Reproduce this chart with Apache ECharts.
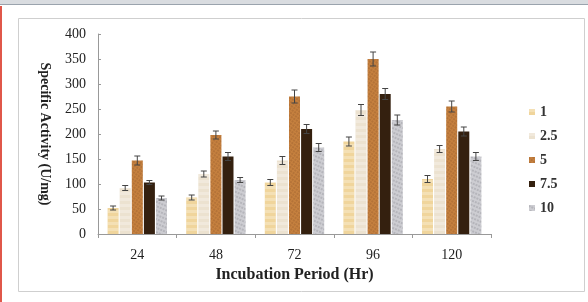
<!DOCTYPE html>
<html>
<head>
<meta charset="utf-8">
<script src="https://cdn.jsdelivr.net/npm/echarts@6/dist/echarts.min.js"></script>
<style>
  html, body { margin: 0; padding: 0; background: #fff; }
  #chart { width: 588px; height: 302px; }
</style>
</head>
<body>
<div id="chart"></div>
<script>
    var periods = ['24', '48', '72', '96', '120'];
    var seriesNames = ['1', '2.5', '5', '7.5', '10'];
    var values = [
        [52, 73, 103, 185, 110],
        [92, 120, 147, 248, 170],
        [147, 198, 275, 350, 255],
        [103, 155, 210, 280, 205],
        [72, 108, 173, 228, 155]
    ];
    var errors = [
        [4, 5, 6, 9, 7],
        [5, 6, 8, 11, 7],
        [9, 8, 13, 14, 11],
        [4, 8, 9, 11, 9],
        [4, 5, 8, 10, 8]
    ];
    var colors = ['#f0d59c', '#ece2d0', '#c6813f', '#34200f', '#cdcdd2'];

    var barWidth = 11;
    var barGap = 0.1;

    var serif = '"Liberation Serif", "DejaVu Serif", serif';

    function decalFor(i) {
        if (i === 2) {
            return { symbol: 'circle', symbolSize: 0.7, color: 'rgba(110,60,25,0.55)', dashArrayX: [2, 1], dashArrayY: [2, 1], rotation: 0.6 };
        }
        if (i === 4) {
            return { symbol: 'circle', symbolSize: 0.8, color: 'rgba(105,105,115,0.55)', dashArrayX: [2, 1], dashArrayY: [2, 2], rotation: 0.4 };
        }
        if (i === 0 || i === 1) {
            return { symbol: 'rect', symbolSize: 1, color: 'rgba(255,255,255,0.25)', dashArrayX: [1, 0], dashArrayY: [3, 3], rotation: 0 };
        }
        return { symbol: 'none' };
    }

    var series = [];
    seriesNames.forEach(function (name, i) {
        series.push({
            name: name,
            type: 'bar',
            barWidth: barWidth,
            barGap: (barGap * 100) + '%',
            itemStyle: { color: colors[i], decal: decalFor(i) },
            data: values[i]
        });
    });

    // error bars, placed over each bar of the group
    seriesNames.forEach(function (name, i) {
        series.push({
            type: 'custom',
            name: name + ' err',
            silent: true,
            z: 5,
            renderItem: function (params, api) {
                var cat = api.value(0);
                var v = api.value(1);
                var e = api.value(2);
                var step = barWidth * (1 + barGap);
                var total = barWidth * 5 + barWidth * barGap * 4;
                var off = -total / 2 + i * step + barWidth / 2;
                var hi = api.coord([cat, v + e]);
                var lo = api.coord([cat, v - e]);
                var x = hi[0] + off;
                var st = { stroke: '#444', lineWidth: 1 };
                return {
                    type: 'group',
                    children: [
                        { type: 'line', shape: { x1: x, y1: hi[1], x2: x, y2: lo[1] }, style: st },
                        { type: 'line', shape: { x1: x - 3, y1: hi[1], x2: x + 3, y2: hi[1] }, style: st },
                        { type: 'line', shape: { x1: x - 3, y1: lo[1], x2: x + 3, y2: lo[1] }, style: st }
                    ]
                };
            },
            data: values[i].map(function (v, j) { return [j, v, errors[i][j]]; })
        });
    });

    var option = {
        animation: false,
        backgroundColor: '#fff',
        graphic: [
            { type: 'rect', shape: { x: 0, y: 0, width: 588, height: 4 }, style: { fill: '#d9dce0' }, silent: true },
            { type: 'rect', shape: { x: 0, y: 4, width: 588, height: 1 }, style: { fill: '#9aa3ad' }, silent: true },
            { type: 'rect', shape: { x: 0, y: 6, width: 2, height: 296 }, style: { fill: '#e0574a' }, silent: true },
            { type: 'rect', shape: { x: 18.5, y: 18.5, width: 566, height: 273 }, style: { fill: 'none', stroke: '#cfcfcf', lineWidth: 1 }, silent: true }
        ],
        grid: { left: 98, right: 97, top: 34, bottom: 68 },
        legend: {
            orient: 'vertical',
            left: 524,
            top: 100,
            itemWidth: 6,
            itemHeight: 6,
            itemGap: 10,
            icon: 'rect',
            data: seriesNames,
            textStyle: { fontFamily: serif, fontSize: 14, fontWeight: 'bold', color: '#333' }
        },
        xAxis: {
            type: 'category',
            data: periods,
            name: 'Incubation Period (Hr)',
            nameLocation: 'middle',
            nameGap: 33,
            nameTextStyle: { fontFamily: serif, fontSize: 16, fontWeight: 'bold', color: '#222' },
            axisLine: { lineStyle: { color: '#999' } },
            axisTick: { show: true, length: 4, lineStyle: { color: '#999' } },
            axisLabel: { fontFamily: serif, fontSize: 14, color: '#222', margin: 14 }
        },
        yAxis: {
            type: 'value',
            min: 0,
            max: 400,
            interval: 50,
            name: 'Specific Activity (U/mg)',
            nameLocation: 'middle',
            nameGap: 46,
            nameRotate: -90,
            nameTextStyle: { fontFamily: serif, fontSize: 14, fontWeight: 'bold', color: '#222' },
            axisLine: { show: true, lineStyle: { color: '#999' } },
            axisTick: { show: true, inside: true, length: 3, lineStyle: { color: '#999' } },
            splitLine: { show: false },
            axisLabel: { fontFamily: serif, fontSize: 14, color: '#222', margin: 12 }
        },
        series: series
    };

    var myChart = echarts.init(document.getElementById('chart'));
    myChart.setOption(option);
</script>
</body>
</html>
